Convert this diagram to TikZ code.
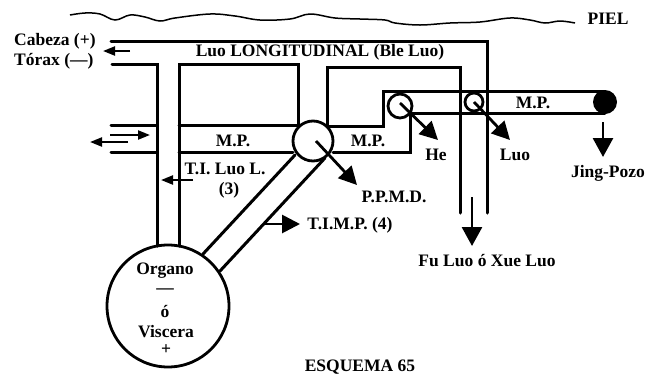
\documentclass[tikz,border=0pt]{standalone}
\usepackage{fontspec}
\setmainfont{Liberation Serif}
\usetikzlibrary{arrows.meta}
\tikzset{
  x=1pt,y=-1pt,
  wall/.style={line width=3pt,line cap=round,line join=miter},
  lab/.style={inner sep=0pt,font=\bfseries\fontsize{17.5}{19}\selectfont},
  hollow/.style={circle,draw,line width=2.8pt,fill=white,inner sep=0pt},
  bigflow/.style={line width=2.8pt,-{Triangle[length=19pt,width=20pt]}},
  midflow/.style={line width=2.8pt,-{Triangle[length=18pt,width=18pt]}},
  smallflow/.style={line width=2.2pt,-{Triangle[length=12pt,width=9pt]}},
}
\begin{document}
\begin{tikzpicture}
\useasboundingbox (0,0) rectangle (649,376);
\fill[white] (0,0) rectangle (649,376);
% skin
\draw[line width=1.5pt] plot[smooth,tension=.6] coordinates {(70,15)(85,13)(100,14)(115,20)(130,15)(145,17)(160,21)(175,18)(210,14)(235,16)(260,20)(290,19)(310,14)(335,18)(360,19)(385,20)(395,23)(420,25)(450,23)(480,22)(510,18)(530,20)(545,23)(560,21)(575,23)};
% named nodes
\node[hollow,minimum size=40pt] (pp) at (313,141) {};
\node[hollow,minimum size=122pt] (org) at (168,306) {};
% longitudinal channel
\coordinate (ta) at (111,41);
\coordinate (tb) at (487,41);
\coordinate (tc) at (487,213);
\draw[wall] (ta) -- (tb) -- (tc);
\coordinate (ua) at (460,67);
\coordinate (ub) at (460,213);
\coordinate (va) at (327,67);
\coordinate (vb) at (327,126);
\draw[wall] (ub) -- (ua) -- (va) -- (vb);
\coordinate (la) at (112,64);
\coordinate (lb) at (157,64);
\coordinate (lc) at (157,246);
\draw[wall] (la) -- (lb) -- (lc);
\coordinate (ma) at (298,125);
\coordinate (mb) at (298,64);
\coordinate (mc) at (179,64);
\coordinate (md) at (179,246);
\draw[wall] (ma) -- (mb) -- (mc) -- (md);
% left M.P.
\coordinate (pa) at (111,125);
\coordinate (pb) at (157,125);
\coordinate (pc) at (111,152);
\coordinate (pd) at (157,152);
\draw[wall] (pa) -- (pb) (pc) -- (pd);
\coordinate (qa) at (179,125);
\coordinate (qb) at (179,152);
\draw[wall] (qa) -- (ma) (qb) -- (293,152);
% right M.P.
\coordinate (ra) at (383,126);
\coordinate (rb) at (383,91);
\coordinate (rc) at (605,91);
\coordinate (rd) at (605,113);
\coordinate (re) at (410,113);
\coordinate (rf) at (410,152);
\coordinate (rg) at (333,152);
\draw[wall] (vb) -- (ra) -- (rb) -- (rc);
\draw[wall] (rd) -- (re) -- (rf) -- (rg);
\fill[white] (461.7,92.7) rectangle (485.3,111.3);
% diagonal
\coordinate (da) at (295,155);
\coordinate (db) at (203,254);
\coordinate (dc) at (325,158);
\coordinate (dd) at (220,271);
\draw[wall] (da) -- (db) (dc) -- (dd);
\node[hollow,minimum size=24pt] (he) at (400,106) {};
\node[hollow,minimum size=18pt] (q) at (474,102) {};
\node[circle,fill=black,minimum size=24pt,inner sep=0pt] (jing) at (605,102) {};
% arrows
\coordinate (a1) at (130,51); \coordinate (a1t) at (103,51);
\draw[smallflow] (a1) -- (a1t);
\coordinate (a2) at (110,135); \coordinate (a2t) at (150,135);
\draw[smallflow] (a2) -- (a2t);
\coordinate (a3) at (128,142); \coordinate (a3t) at (90,142);
\draw[smallflow] (a3) -- (a3t);
\coordinate (a4) at (193,180); \coordinate (a4t) at (161,180);
\draw[smallflow] (a4) -- (a4t);
\coordinate (a5) at (316,141); \coordinate (a5t) at (357,185);
\draw[midflow] (a5) -- (a5t);
\coordinate (a6) at (265,224); \coordinate (a6t) at (300,224);
\draw[midflow] (a6) -- (a6t);
\coordinate (a7) at (400,103); \coordinate (a7t) at (438,140);
\draw[midflow] (a7) -- (a7t);
\coordinate (a8) at (474,102); \coordinate (a8t) at (510,140);
\draw[midflow] (a8) -- (a8t);
\coordinate (a9) at (603,122); \coordinate (a9t) at (603,157);
\draw[bigflow] (a9) -- (a9t);
\coordinate (a10) at (472,197); \coordinate (a10t) at (472,246);
\draw[bigflow] (a10) -- (a10t);
% labels
\node[lab,anchor=west] (cab) at (14,41) {Cabeza (+)};
\node[lab,anchor=west] (tor) at (14,61) {Tórax (—)};
\node[lab] (piel) at (608,19) {PIEL};
\node[lab] (long) at (320,52) {Luo LONGITUDINAL (Ble Luo)};
\node[lab] (mp1) at (233,141) {M.P.};
\node[lab] (mp2) at (368,141) {M.P.};
\node[lab] (mp3) at (533,103) {M.P.};
\node[lab] (ti) at (225,169) {T.I. Luo L.};
\node[lab] (three) at (229,190) {(3)};
\node[lab] (lhe) at (436,155) {He};
\node[lab] (lluo) at (515,155) {Luo};
\node[lab] (ljing) at (608,173) {Jing-Pozo};
\node[lab] (ppmd) at (394,197) {P.P.M.D.};
\node[lab] (timp) at (350,225) {T.I.M.P. (4)};
\node[lab] (fu) at (487,261) {Fu Luo ó Xue Luo};
\node[lab] (org1) at (165,271) {Organo};
\node[lab] (org2) at (165,291) {—};
\node[lab] (org3) at (165,311) {ó};
\node[lab] (org4) at (166,332) {Viscera};
\node[lab] (org5) at (166,350) {+};
\node[lab] (esq) at (360,367) {ESQUEMA 65};
\end{tikzpicture}
\end{document}
